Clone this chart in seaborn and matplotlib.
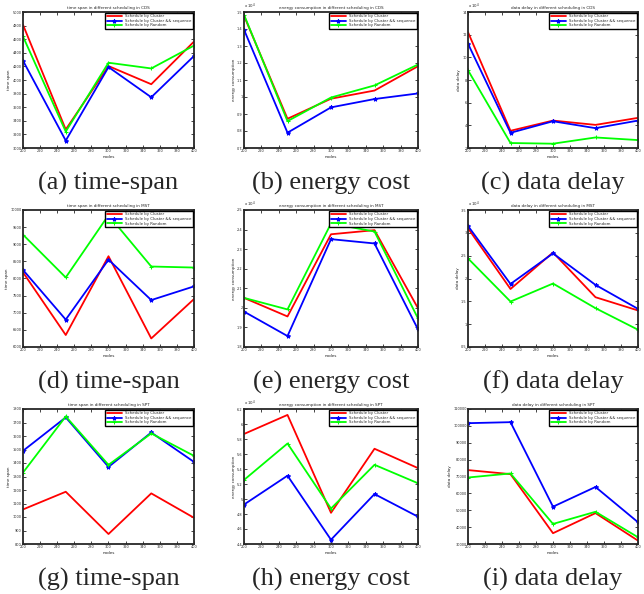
import numpy as np
import pandas as pd
import matplotlib
matplotlib.use("Agg")
import matplotlib.pyplot as plt
import seaborn as sns

sns.set_style("ticks")

# x values shared by all panels
nodes = [200, 250, 300, 350, 400]
schemes = ["Schedule by Cluster", "Schedule by Cluster && sequence", "Schedule by Random"]

# CDS
cds_span_cluster = [4812, 3272, 4205, 3938, 4565]
cds_span_seq = [4284, 3109, 4190, 3746, 4353]
cds_span_random = [4640, 3242, 4254, 4170, 4506]

cds_energy_cluster = [1.478, 0.872, 0.990, 1.038, 1.181]
cds_energy_seq = [1.396, 0.790, 0.939, 0.988, 1.021]
cds_energy_random = [1.484, 0.858, 0.997, 1.068, 1.191]

cds_delay_cluster = [12.22, 3.52, 4.42, 4.04, 4.66]
cds_delay_seq = [11.20, 3.34, 4.36, 3.75, 4.42]
cds_delay_random = [8.86, 2.44, 2.38, 2.93, 2.70]

# MST
mst_span_cluster = [8180, 6350, 8650, 6250, 7400]
mst_span_seq = [8250, 6800, 8550, 7370, 7770]
mst_span_random = [9280, 8030, 9850, 8350, 8320]

mst_energy_cluster = [2.051, 1.956, 2.376, 2.397, 1.998]
mst_energy_seq = [1.981, 1.856, 2.351, 2.329, 1.890]
mst_energy_random = [2.051, 1.992, 2.431, 2.390, 1.946]

mst_delay_cluster = [3.10, 1.77, 2.57, 1.59, 1.30]
mst_delay_seq = [3.15, 1.88, 2.55, 1.86, 1.335]
mst_delay_random = [2.44, 1.495, 1.89, 1.35, 0.878]

# SPT
spt_span_cluster = [1056, 1187, 874, 1175, 994]
spt_span_seq = [1490, 1738, 1371, 1626, 1408]
spt_span_random = [1329, 1745, 1386, 1619, 1453]

spt_energy_cluster = [5.867, 6.121, 4.816, 5.670, 5.412]
spt_energy_seq = [4.926, 5.311, 4.457, 5.066, 4.764]
spt_energy_random = [5.254, 5.740, 4.873, 5.456, 5.210]

spt_delay_cluster = [73800, 71400, 36400, 48300, 32000]
spt_delay_seq = [101600, 102200, 52100, 63800, 42900]
spt_delay_random = [69400, 71800, 41900, 49100, 34000]

colors = ["#ff0000", "#0000ff", "#00ff00"]
markers = [None, "*", "+"]

W, H = 644, 594
fig = plt.figure(figsize=(W / 100, H / 100), dpi=100)

col_x = [(23, 194), (244, 418), (468, 638)]
row_y = [(12, 148), (210, 347), (409, 544)]

panels = [
    ("time span in different scheduling in CDS", "time span",
     [cds_span_cluster, cds_span_seq, cds_span_random], (3000, 5000), np.arange(3000, 5001, 200), None, "(a) time-span"),
    ("energy consumption in different scheduling in CDS", "energy consumption",
     [cds_energy_cluster, cds_energy_seq, cds_energy_random], (0.7, 1.5), np.arange(0.7, 1.51, 0.1), 4, "(b) energy cost"),
    ("data delay in different scheduling in CDS", "data delay",
     [cds_delay_cluster, cds_delay_seq, cds_delay_random], (2, 14), np.arange(2, 15, 2), 4, "(c) data delay"),
    ("time span in different scheduling in MST", "time span",
     [mst_span_cluster, mst_span_seq, mst_span_random], (6000, 10000), np.arange(6000, 10001, 500), None, "(d) time-span"),
    ("energy consumption in different scheduling in MST", "energy consumption",
     [mst_energy_cluster, mst_energy_seq, mst_energy_random], (1.8, 2.5), np.arange(1.8, 2.51, 0.1), 4, "(e) energy cost"),
    ("data delay in different scheduling in MST", "data delay",
     [mst_delay_cluster, mst_delay_seq, mst_delay_random], (0.5, 3.5), np.arange(0.5, 3.51, 0.5), 4, "(f) data delay"),
    ("time span in different scheduling in SPT", "time span",
     [spt_span_cluster, spt_span_seq, spt_span_random], (800, 1800), np.arange(800, 1801, 100), None, "(g) time-span"),
    ("energy consumption in different scheduling in SPT", "energy consumption",
     [spt_energy_cluster, spt_energy_seq, spt_energy_random], (4.4, 6.2), np.arange(4.4, 6.21, 0.2), 4, "(h) energy cost"),
    ("data delay in different scheduling in SPT", "data delay",
     [spt_delay_cluster, spt_delay_seq, spt_delay_random], (30000, 110000), np.arange(30000, 110001, 10000), None, "(i) data delay"),
]


def fmt(v):
    s = ("%.2f" % v).rstrip("0").rstrip(".")
    return s


for k, (title, ylab, series, ylim, yticks, expo, caption) in enumerate(panels):
    r, c = divmod(k, 3)
    x0, x1 = col_x[c]
    y0, y1 = row_y[r]
    ax = fig.add_axes([x0 / W, 1 - y1 / H, (x1 - x0) / W, (y1 - y0) / H])
    for vals, name, col, mk in zip(series, schemes, colors, markers):
        sns.lineplot(x=nodes, y=vals, ax=ax, color=col, marker=mk, markersize=3,
                     markeredgecolor=col, linewidth=1.3, label=name)
    ax.set_xlim(200, 400)
    ax.set_ylim(*ylim)
    ax.set_xticks(range(200, 401, 20))
    ax.set_yticks(yticks)
    ax.set_yticklabels([fmt(t) for t in yticks])
    ax.tick_params(direction="in", top=True, right=True, labelsize=2.5, length=2, width=0.6, pad=1)
    for sp in ax.spines.values():
        sp.set_linewidth(1.3)
    ax.set_title(title, fontsize=3, pad=2)
    ax.set_xlabel("nodes", fontsize=3, labelpad=1)
    ax.set_ylabel(ylab, fontsize=3, labelpad=1)
    if expo:
        ax.text(0.0, 1.01, "x 10$^{%d}$" % expo, transform=ax.transAxes, fontsize=2.8, va="bottom")
    leg = ax.legend(loc="upper right", fontsize=2.8, handlelength=4, borderpad=0.3,
                    labelspacing=0.15, fancybox=False, framealpha=1, borderaxespad=0.3)
    leg.get_frame().set_edgecolor("black")
    leg.get_frame().set_linewidth(1.0)
    fig.text((x0 + x1) / 2 / W, 1 - (y1 + 35) / H, caption, ha="center", va="center",
             fontsize=19, family="Liberation Serif")

fig.savefig("out.png", dpi=100)
